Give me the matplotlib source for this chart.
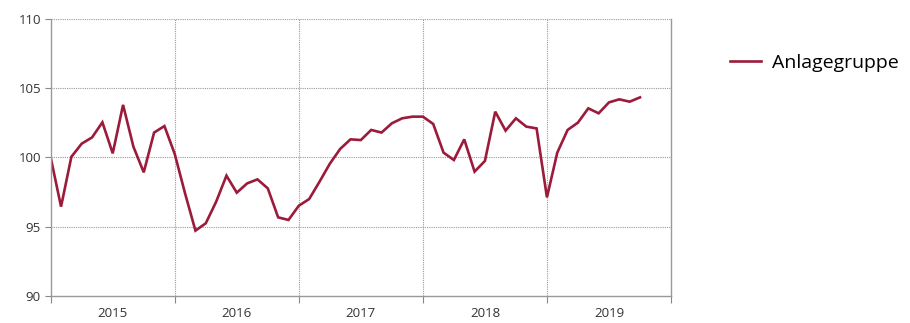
import matplotlib
matplotlib.use("Agg")
import matplotlib.pyplot as plt
import numpy as np

years = ["2015", "2016", "2017", "2018", "2019"]
series_name = "Anlagegruppe"
values = [
    100.0, 96.45, 100.05, 101.0, 101.45, 102.54, 100.3, 103.8, 100.78, 98.93, 101.8, 102.27,
    100.25, 97.4, 94.72, 95.25, 96.8, 98.69, 97.46, 98.13, 98.42, 97.77, 95.68, 95.49,
    96.52, 97.0, 98.25, 99.55, 100.62, 101.31, 101.26, 101.99, 101.8, 102.47, 102.83, 102.95,
    102.95, 102.42, 100.35, 99.82, 101.31, 98.98, 99.75, 103.31, 101.94, 102.83, 102.23, 102.1,
    97.12, 100.35, 101.99, 102.52, 103.55, 103.19, 103.98, 104.2, 104.03, 104.34,
]
yticks = [90, 95, 100, 105, 110]

plt.rcParams['font.family'] = ['Open Sans', 'DejaVu Sans']

fig = plt.figure(figsize=(9.1, 3.23), dpi=100)
ax = fig.add_axes([50.7/910, 1-296/323, (671-50.7)/910, (296-19)/323])

x = np.arange(len(values)) / 12.0
line, = ax.plot(x, values, color="#9B1B3A", lw=1.9, solid_joinstyle="miter", label=series_name)

ax.set_xlim(0, len(years))
ax.set_ylim(90, 110)
ax.set_yticks(yticks)
ax.set_yticklabels([str(v) for v in yticks])
ax.set_xticks(np.arange(len(years) + 1))
ax.set_xticklabels([])
ax.set_xticks(np.arange(len(years)) + 0.5, minor=True)
ax.set_xticklabels(years, minor=True)
ax.tick_params(axis="x", which="minor", length=0, pad=8, labelsize=9.5, colors="#333333")
ax.tick_params(axis="x", which="major", length=5, direction="out", color="#888888")
ax.tick_params(axis="y", length=4, direction="out", color="#888888", labelsize=9.5, labelcolor="#333333", pad=3)

for s in ["left", "bottom", "right"]:
    ax.spines[s].set_color("#999999")
    ax.spines[s].set_linewidth(1.0)
ax.spines["top"].set_visible(False)

for v in yticks[1:]:
    ax.axhline(v, color="#999999", lw=0.8, ls=(0, (1, 1)), zorder=0)
for i in range(1, len(years)):
    ax.axvline(i, color="#999999", lw=0.8, ls=(0, (1, 1)), zorder=0)

fig.legend(handles=[line], labels=[series_name], loc="center left",
           bbox_to_anchor=(730/910, 1-63/323), frameon=False, fontsize=14,
           handlelength=1.6, handletextpad=0.55, borderpad=0, borderaxespad=0)

fig.savefig("out.png", dpi=100)
